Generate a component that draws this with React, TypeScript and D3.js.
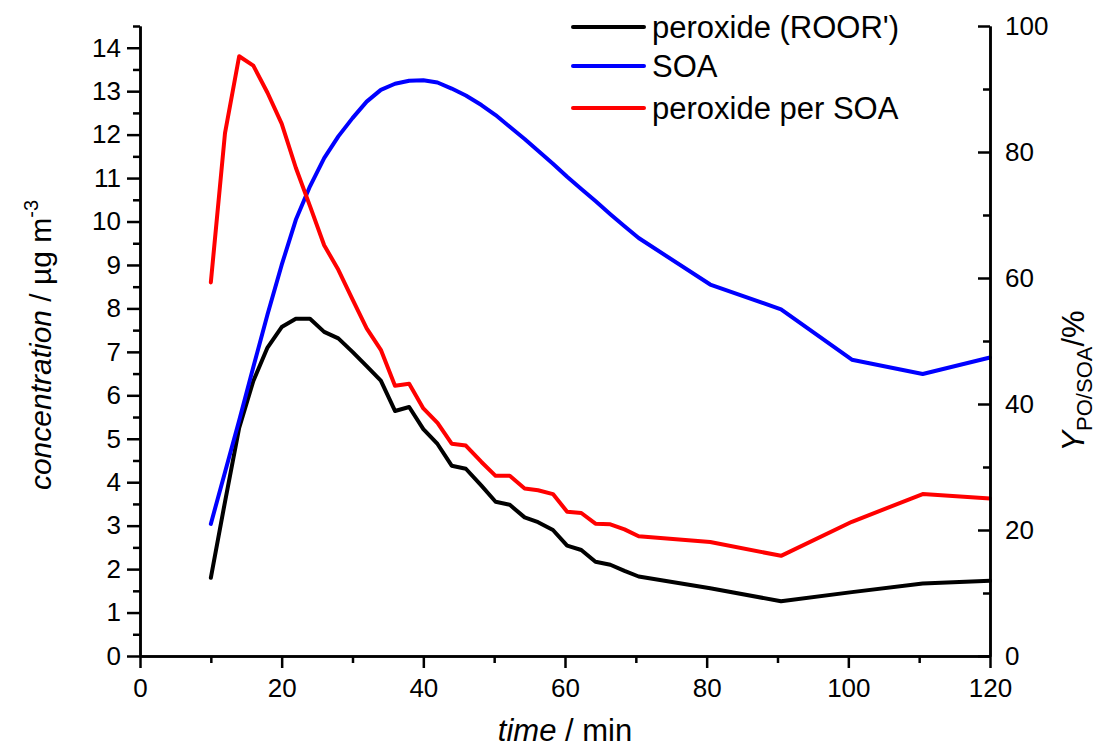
import React, { useEffect, useRef } from "react";
import * as d3 from "d3";

const times = [10, 12, 14, 16, 18, 20, 22, 24, 26, 28, 30, 32, 34, 36, 38, 40, 42, 44, 46, 48.2, 50.2, 52.2, 54.3, 56.2, 58.3, 60.3, 62.3, 64.3, 66.4, 68.4, 70.4, 80.5, 90.5, 100.5, 110.5, 120];

const peroxide = [1.8, 3.55, 5.25, 6.33, 7.1, 7.57, 7.76, 7.76, 7.46, 7.31, 7.0, 6.67, 6.34, 5.64, 5.73, 5.22, 4.88, 4.38, 4.31, 3.92, 3.55, 3.48, 3.19, 3.08, 2.9, 2.54, 2.44, 2.17, 2.1, 1.96, 1.83, 1.56, 1.26, 1.47, 1.67, 1.73];

const soa = [3.04, 4.23, 5.42, 6.65, 7.86, 9.0, 10.04, 10.81, 11.46, 11.96, 12.38, 12.76, 13.03, 13.17, 13.24, 13.25, 13.2, 13.06, 12.9, 12.68, 12.45, 12.18, 11.9, 11.63, 11.33, 11.03, 10.75, 10.47, 10.17, 9.89, 9.62, 8.55, 7.98, 6.82, 6.49, 6.87];

const perSoa = [59.3, 83.0, 95.2, 93.7, 89.4, 84.5, 77.5, 71.4, 65.2, 61.3, 56.6, 52.0, 48.6, 42.9, 43.2, 39.3, 37.0, 33.7, 33.4, 30.8, 28.6, 28.6, 26.6, 26.3, 25.7, 22.9, 22.7, 21.0, 20.9, 20.1, 19.0, 18.1, 15.9, 21.3, 25.7, 25.0];

const xTicks = [0, 20, 40, 60, 80, 100, 120];
const xMinor = [10, 30, 50, 70, 90, 110];
const leftTicks = d3.range(0, 15, 1);
const leftMinor = d3.range(0.5, 15, 1);
const rightTicks = [0, 20, 40, 60, 80, 100];
const rightMinor = [10, 30, 50, 70, 90];

const legendItems = [
  { label: "peroxide (ROOR')", color: "#000000" },
  { label: "SOA", color: "#0000ff" },
  { label: "peroxide per SOA", color: "#ff0000" },
];

const W = 1100;
const H = 749;
const FONT = "'Liberation Sans', Arial, sans-serif";

export default function App() {
  const axRef = useRef<SVGGElement>(null);

  const x = d3.scaleLinear().domain([0, 120]).range([140, 990]);
  const yL = d3.scaleLinear().domain([0, 14.5]).range([656, 26]);
  const yR = d3.scaleLinear().domain([0, 100]).range([656, 26]);

  const lineL = d3
    .line<number>()
    .x((_, i) => x(times[i]))
    .y((d) => yL(d));
  const lineR = d3
    .line<number>()
    .x((_, i) => x(times[i]))
    .y((d) => yR(d));

  useEffect(() => {
    const g = d3.select(axRef.current);
    g.selectAll("*").remove();

    const style = (sel: any) => {
      sel.selectAll("path, line").attr("stroke", "#000").attr("stroke-width", 2.5);
      sel.selectAll("text").attr("font-family", FONT).attr("font-size", 26).attr("fill", "#000");
    };

    const gl = g.append("g").attr("transform", "translate(140,0)");
    gl.call(d3.axisLeft(yL).tickValues(leftTicks).tickSize(13).tickSizeOuter(0).tickPadding(6).tickFormat(d3.format("d")) as any);
    gl.append("g").call(d3.axisLeft(yL).tickValues(leftMinor).tickSize(7).tickSizeOuter(0).tickFormat(() => "") as any);
    style(gl);

    const gr = g.append("g").attr("transform", "translate(990,0)");
    gr.call(d3.axisRight(yR).tickValues(rightTicks).tickSize(-12).tickSizeOuter(0).tickPadding(15).tickFormat(d3.format("d")) as any);
    gr.append("g").call(d3.axisRight(yR).tickValues(rightMinor).tickSize(-7).tickSizeOuter(0).tickFormat(() => "") as any);
    style(gr);

    const gb = g.append("g").attr("transform", "translate(0,656)");
    gb.call(d3.axisBottom(x).tickValues(xTicks).tickSize(12).tickSizeOuter(0).tickPadding(11).tickFormat(d3.format("d")) as any);
    gb.append("g").call(d3.axisBottom(x).tickValues(xMinor).tickSize(7).tickSizeOuter(0).tickFormat(() => "") as any);
    style(gb);
  }, []);

  return (
    <svg width={W} height={H} style={{ position: "absolute", left: 0, top: 0, background: "#fff" }} fontFamily={FONT}>
      <rect x={0} y={0} width={W} height={H} fill="#fff" />
      <path d={lineL(peroxide) || ""} fill="none" stroke="#000000" strokeWidth={4} strokeLinejoin="round" strokeLinecap="round" />
      <path d={lineL(soa) || ""} fill="none" stroke="#0000ff" strokeWidth={4} strokeLinejoin="round" strokeLinecap="round" />
      <path d={lineR(perSoa) || ""} fill="none" stroke="#ff0000" strokeWidth={4} strokeLinejoin="round" strokeLinecap="round" />
      <g ref={axRef} />

      {legendItems.map((it, i) => {
        const ly = [27, 66, 108][i];
        return (
          <g key={it.label}>
            <line x1={573} x2={644} y1={ly} y2={ly} stroke={it.color} strokeWidth={4} strokeLinecap="round" />
            <text x={652} y={ly + 11} fontSize={31} fill="#000">
              {it.label}
            </text>
          </g>
        );
      })}

      <text x={565} y={741} fontSize={31} textAnchor="middle" fill="#000">
        <tspan fontStyle="italic">time</tspan>
        <tspan> / min</tspan>
      </text>

      <text transform="translate(51,345) rotate(-90)" fontSize={30} textAnchor="middle" fill="#000">
        <tspan fontStyle="italic">concentration</tspan>
        <tspan> / µg m</tspan>
        <tspan fontSize={20} dy={-13}>-3</tspan>
      </text>

      <text transform="translate(1084,381) rotate(-90)" fontSize={31} textAnchor="middle" fill="#000">
        <tspan fontStyle="italic">Y</tspan>
        <tspan fontSize={22} dy={8}>PO/SOA</tspan>
        <tspan dy={-8}>/%</tspan>
      </text>
    </svg>
  );
}
